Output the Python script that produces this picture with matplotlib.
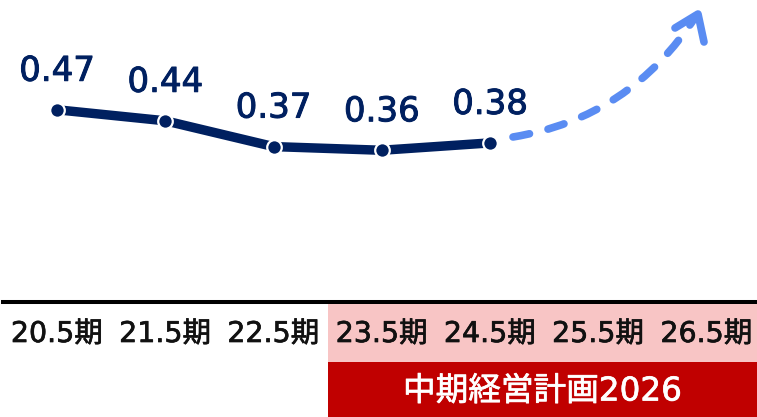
import matplotlib
matplotlib.use("Agg")
import matplotlib.pyplot as plt
import matplotlib.patheffects as pe
from matplotlib.path import Path
from matplotlib.patches import PathPatch

# Verdana-like digits (DejaVu), kanji from Noto CJK
plt.rcParams['font.family'] = ['DejaVu Sans', 'Noto Sans CJK JP']

# data
periods = ['20.5期', '21.5期', '22.5期', '23.5期', '24.5期', '25.5期', '26.5期']
values = [0.47, 0.44, 0.37, 0.36, 0.38]
labels = ['0.47', '0.44', '0.37', '0.36', '0.38']
plan_first = 3          # index of first period in the mid-term plan
plan_name = '中期経営計画2026'

NAVY = '#002060'
BLUE = '#5a8cf2'
PINK = '#f8c5c5'
RED = '#c00000'

W, H = 757, 417
fig = plt.figure(figsize=(W / 100, H / 100), dpi=100)

xlim = (-57 / 108.25, (W - 57) / 108.25)


def heavier(color, w=0.6):
    # fake a medium weight by outlining glyphs in their own colour
    return [pe.withStroke(linewidth=w, foreground=color)]


# main line axes (top part, bottom spine = black rule)
ax = fig.add_axes([0, 1 - 302 / H, 1, 302 / H])
ax.set_xlim(*xlim)
ax.set_ylim(-0.052, 0.768)
x = list(range(len(values)))
ax.plot(x, values, color=NAVY, lw=6.8, marker='o', ms=10.5,
        mfc=NAVY, mec='white', mew=1.6, solid_capstyle='round', zorder=3)
for xi, v, lab in zip(x, values, labels):
    ax.annotate(lab, (xi, v), xytext=(0, 29), textcoords='offset pixels',
                ha='center', va='baseline', fontsize=24.5, color=NAVY,
                path_effects=heavier(NAVY, 0.7))
for s in ['top', 'left', 'right']:
    ax.spines[s].set_visible(False)
ax.spines['bottom'].set_linewidth(2.9)
ax.spines['bottom'].set_color('black')
ax.spines['bottom'].set_bounds(-0.5, xlim[1])
ax.set_xticks([])
ax.set_yticks([])
ax.patch.set_alpha(0)

# bottom band: period labels + plan banner
bx = fig.add_axes([0, 0, 1, (H - 304) / H])
bx.set_xlim(*xlim)
bx.set_ylim(0, 113)
bx.axis('off')
bx.fill_between([plan_first - 0.5, xlim[1]], 55, 113, color=PINK, lw=0)
bx.fill_between([plan_first - 0.5, xlim[1]], 0, 55, color=RED, lw=0)
for i, p in enumerate(periods):
    bx.text(i, 83, p, ha='center', va='center', fontsize=20.5,
            color='#111111', path_effects=heavier('#111111', 0.5))
bx.text((plan_first - 0.5 + xlim[1]) / 2, 26, plan_name, ha='center',
        va='center', fontsize=23.5, color='white',
        path_effects=heavier('white', 0.5))

# dashed growth arrow (decoration, pixel overlay)
ov = fig.add_axes([0, 0, 1, 1])
ov.set_xlim(0, W)
ov.set_ylim(H, 0)
ov.axis('off')
ov.patch.set_alpha(0)
curve = Path([(513, 137), (630, 118), (696, 16)],
             [Path.MOVETO, Path.CURVE3, Path.CURVE3])
pp = PathPatch(curve, fill=False, edgecolor=BLUE, lw=5.5,
               linestyle=(0, (2.2, 2.5)))
pp.set_capstyle('round')
ov.add_patch(pp)
ov.plot([675, 698, 704], [28, 14, 42], color=BLUE, lw=5.5,
        solid_capstyle='round', solid_joinstyle='round')

fig.savefig('out.png', dpi=100)
